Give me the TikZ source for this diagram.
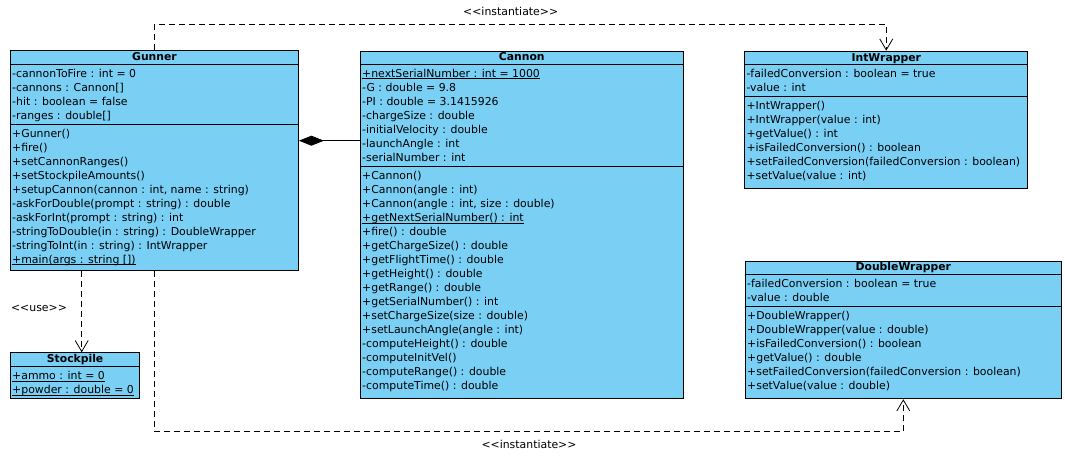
\documentclass[tikz,border=0pt]{standalone}
\usepackage{fontspec}
\newfontfamily\vpfont{DejaVu Sans}
\usetikzlibrary{arrows.meta}
\definecolor{umlblue}{RGB}{122,207,245}
\newcommand{\ulmember}[1]{\underline{\smash{#1}}}

\begin{document}
\begin{tikzpicture}[x=1pt, y=-1pt,
  classbox/.style={draw, line width=0.9pt, fill=umlblue, inner sep=0, anchor=north west},
  sep/.style={line width=0.9pt},
  classname/.style={font=\vpfont\bfseries\fontsize{10.8pt}{14pt}\selectfont, anchor=base, inner sep=0},
  member/.style={font=\vpfont\fontsize{10.9pt}{14pt}\selectfont, anchor=base west, inner sep=0},
  stereo/.style={font=\vpfont\fontsize{10.9pt}{14pt}\selectfont, anchor=base, inner sep=0},
  dep/.style={line width=0.8pt, dash pattern=on 6pt off 4pt, -{Straight Barb[length=11pt,width=13pt]}},
  composition/.style={line width=0.8pt, {Diamond[length=25pt,width=10pt]}-}]

\useasboundingbox (0,0) rectangle (1065,455);

% Class boxes
\node[classbox, minimum width=288pt, minimum height=220pt] (gunner) at (10,50) {};
\node[classbox, minimum width=322.7pt, minimum height=347pt] (cannon) at (360,50.7) {};
\node[classbox, minimum width=283pt, minimum height=137.6pt] (intwrapper) at (744.3,50.7) {};
\node[classbox, minimum width=315.7pt, minimum height=137.6pt] (doublewrapper) at (745,260.7) {};
\node[classbox, minimum width=129.3pt, minimum height=45.4pt] (stockpile) at (10,352.3) {};

% Compartment lines
\draw[sep] ([yshift=-14pt]gunner.north west) -- ([yshift=-14pt]gunner.north east);
\draw[sep] ([yshift=-74pt]gunner.north west) -- ([yshift=-74pt]gunner.north east);
\draw[sep] ([yshift=-13.3pt]cannon.north west) -- ([yshift=-13.3pt]cannon.north east);
\draw[sep] ([yshift=-116pt]cannon.north west) -- ([yshift=-116pt]cannon.north east);
\draw[sep] ([yshift=-13.6pt]intwrapper.north west) -- ([yshift=-13.6pt]intwrapper.north east);
\draw[sep] ([yshift=-46pt]intwrapper.north west) -- ([yshift=-46pt]intwrapper.north east);
\draw[sep] ([yshift=-13.6pt]doublewrapper.north west) -- ([yshift=-13.6pt]doublewrapper.north east);
\draw[sep] ([yshift=-46pt]doublewrapper.north west) -- ([yshift=-46pt]doublewrapper.north east);
\draw[sep] ([yshift=-14.4pt]stockpile.north west) -- ([yshift=-14.4pt]stockpile.north east);

% Class names
\node[classname] (gunner-name) at ([yshift=-10.7pt]gunner.north) {Gunner};
\node[classname] (cannon-name) at ([yshift=-10pt]cannon.north) {Cannon};
\node[classname] (intwrapper-name) at ([yshift=-10.3pt]intwrapper.north) {IntWrapper};
\node[classname] (doublewrapper-name) at ([yshift=-10pt]doublewrapper.north) {DoubleWrapper};
\node[classname] (stockpile-name) at ([yshift=-10.4pt]stockpile.north) {Stockpile};

% Gunner
\foreach \m [count=\i] in {{-cannonToFire : int = 0}, {-cannons : Cannon[]},
    {-hit : boolean = false}, {-ranges : double[]}}
  \node[member] (gunner-a\i) at (12,63+14*\i) {\m};
\foreach \m [count=\i] in {{+Gunner()}, {+fire()}, {+setCannonRanges()},
    {+setStockpileAmounts()}, {+setupCannon(cannon : int, name : string)},
    {-askForDouble(prompt : string) : double}, {-askForInt(prompt : string) : int},
    {-stringToDouble(in : string) : DoubleWrapper}, {-stringToInt(in : string) : IntWrapper},
    {\ulmember{+main(args : string [])}}}
  \node[member] (gunner-m\i) at (12,123+14*\i) {\m};

% Cannon
\foreach \m [count=\i] in {{\ulmember{+nextSerialNumber : int = 1000}}, {-G : double = 9.8},
    {-PI : double = 3.1415926}, {-chargeSize : double}, {-initialVelocity : double},
    {-launchAngle : int}, {-serialNumber : int}}
  \node[member] (cannon-a\i) at (362,63+14*\i) {\m};
\foreach \m [count=\i] in {{+Cannon()}, {+Cannon(angle : int)},
    {+Cannon(angle : int, size : double)}, {\ulmember{+getNextSerialNumber() : int}},
    {+fire() : double}, {+getChargeSize() : double}, {+getFlightTime() : double},
    {+getHeight() : double}, {+getRange() : double}, {+getSerialNumber() : int},
    {+setChargeSize(size : double)}, {+setLaunchAngle(angle : int)},
    {-computeHeight() : double}, {-computeInitVel()}, {-computeRange() : double},
    {-computeTime() : double}}
  \node[member] (cannon-m\i) at (362,165.7+14*\i) {\m};

% IntWrapper
\foreach \m [count=\i] in {{-failedConversion : boolean = true}, {-value : int}}
  \node[member] (intwrapper-a\i) at (746.3,63.3+14*\i) {\m};
\foreach \m [count=\i] in {{+IntWrapper()}, {+IntWrapper(value : int)}, {+getValue() : int},
    {+isFailedConversion() : boolean}, {+setFailedConversion(failedConversion : boolean)},
    {+setValue(value : int)}}
  \node[member] (intwrapper-m\i) at (746.3,95.7+14*\i) {\m};

% DoubleWrapper
\foreach \m [count=\i] in {{-failedConversion : boolean = true}, {-value : double}}
  \node[member] (doublewrapper-a\i) at (747,273.3+14*\i) {\m};
\foreach \m [count=\i] in {{+DoubleWrapper()}, {+DoubleWrapper(value : double)},
    {+isFailedConversion() : boolean}, {+getValue() : double},
    {+setFailedConversion(failedConversion : boolean)}, {+setValue(value : double)}}
  \node[member] (doublewrapper-m\i) at (747,305.7+14*\i) {\m};

% Stockpile
\foreach \m [count=\i] in {{\ulmember{+ammo : int = 0}}, {\ulmember{+powder : double = 0}}}
  \node[member] (stockpile-a\i) at (12,365.7+14*\i) {\m};

% Relations
\coordinate (compo) at (0,140.7);
\coordinate (topbend) at (0,24.3);
\coordinate (botbend) at (0,431.7);
\coordinate (usex) at (81.7,0);
\draw[composition] (gunner.east |- compo) -- (cannon.west |- compo);
\draw[dep] (gunner.north) |- (intwrapper.north |- topbend) -- (intwrapper.north);
\draw[dep] (gunner.south) |- (doublewrapper.south |- botbend) -- (doublewrapper.south);
\draw[dep] (gunner.south -| usex) -- (stockpile.north -| usex);

% Stereotypes
\node[stereo] (inst-top) at (510.7,16) {<<instantiate>>};
\node[stereo] (inst-bottom) at (529,448) {<<instantiate>>};
\node[stereo] (use-label) at (39,311) {<<use>>};

\end{tikzpicture}
\end{document}
